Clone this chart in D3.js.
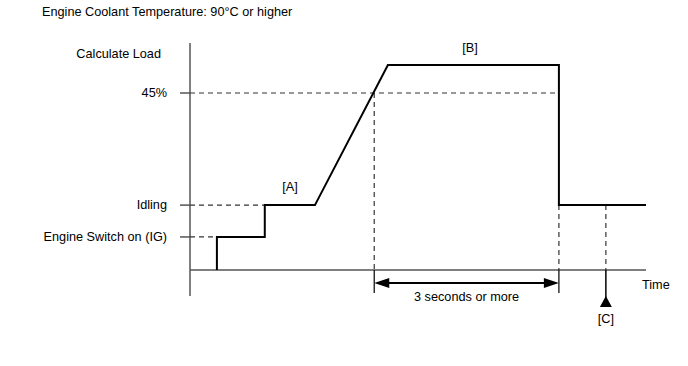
<!DOCTYPE html>
<html>
  <head>
    <meta charset="UTF-8" />
    <style>
      body { margin: 0; background: #fff; }
      text { font-family: 'Liberation Sans', Arial, sans-serif; font-size: 12.7px; fill: #000; }
    </style>
  </head>
  <body>
    <svg></svg>
    <script src="https://d3js.org/d3.v7.min.js"></script>
    <script>
      let width = 688,
        height = 366

      // level labels on the left axis (value in load units)
      let levelNames = ['Engine Switch on (IG)', 'Idling', '45%']
      let levelValues = [8.4, 16.5, 45]
      let topLabel = 'Calculate Load'

      // signal: time (arbitrary units 0-100) and load
      let sigTime = [5.9, 5.9, 16.4, 16.4, 27.4, 43.4, 80.9, 80.9, 100]
      let sigLoad = [0, 8.4, 8.4, 16.5, 16.5, 52.1, 52.1, 16.5, 16.5]

      let crossTime = 40.4 // where signal passes 45%
      let dropTime = 80.9
      let cTime = 91.2

      let svg = d3.select('svg').attr('width', width).attr('height', height)

      let x = d3.scaleLinear().domain([0, 100]).range([190, 646])
      let y = d3.scaleLinear().domain([0, 45]).range([270, 93])

      let axisColor = '#555'

      svg.append('text').attr('x', 42).attr('y', 16).text('Engine Coolant Temperature: 90°C or higher')

      // axes
      svg.append('line').attr('x1', x(0)).attr('x2', x(0)).attr('y1', y(57.7)).attr('y2', y(-6.6))
        .attr('stroke', axisColor).attr('stroke-width', 1.5)
      svg.append('line').attr('x1', x(0)).attr('x2', x(100)).attr('y1', y(0)).attr('y2', y(0))
        .attr('stroke', axisColor).attr('stroke-width', 1.5)

      svg.append('text').attr('x', 161).attr('y', y(54.9)).attr('text-anchor', 'end')
        .attr('dominant-baseline', 'central').text(topLabel)

      // level guides
      let guideEnd = [5.9, 16.4, dropTime]
      levelNames.forEach((name, i) => {
        let yy = y(levelValues[i])
        svg.append('text').attr('x', 167).attr('y', yy).attr('text-anchor', 'end')
          .attr('dominant-baseline', 'central').text(name)
        svg.append('line').attr('x1', 180).attr('x2', x(0)).attr('y1', yy).attr('y2', yy)
          .attr('stroke', axisColor).attr('stroke-width', 1.5)
        svg.append('line').attr('x1', x(0)).attr('x2', x(guideEnd[i])).attr('y1', yy).attr('y2', yy)
          .attr('stroke', '#333').attr('stroke-width', 1.2).attr('stroke-dasharray', '5,4')
      })

      // vertical dashed guides
      let vGuides = [[crossTime, 45], [dropTime, 16.5], [cTime, 16.5]]
      vGuides.forEach((g) => {
        svg.append('line').attr('x1', x(g[0])).attr('x2', x(g[0])).attr('y1', y(g[1])).attr('y2', y(0))
          .attr('stroke', '#333').attr('stroke-width', 1.2).attr('stroke-dasharray', '5,4')
      })
      ;[crossTime, dropTime].forEach((t) => {
        svg.append('line').attr('x1', x(t)).attr('x2', x(t)).attr('y1', y(0)).attr('y2', y(0) + 23)
          .attr('stroke', '#000').attr('stroke-width', 1.2)
      })

      // signal
      let line = d3.line().x((d) => x(d[0])).y((d) => y(d[1]))
      svg.append('path').attr('d', line(d3.zip(sigTime, sigLoad)))
        .attr('fill', 'none').attr('stroke', '#000').attr('stroke-width', 2)

      // double arrow
      let ay = y(0) + 13
      let x1 = x(crossTime), x2 = x(dropTime)
      svg.append('line').attr('x1', x1 + 10).attr('x2', x2 - 10).attr('y1', ay).attr('y2', ay)
        .attr('stroke', '#000').attr('stroke-width', 2)
      svg.append('path').attr('d', `M${x1},${ay} L${x1 + 15},${ay - 5} L${x1 + 15},${ay + 5} Z`)
      svg.append('path').attr('d', `M${x2},${ay} L${x2 - 15},${ay - 5} L${x2 - 15},${ay + 5} Z`)
      svg.append('text').attr('x', (x1 + x2) / 2).attr('y', ay + 14).attr('text-anchor', 'middle')
        .attr('dominant-baseline', 'central').text('3 seconds or more')

      svg.append('text').attr('x', 642).attr('y', 285).attr('dominant-baseline', 'central').text('Time')

      // [C] marker
      let cx = x(cTime)
      svg.append('line').attr('x1', cx).attr('x2', cx).attr('y1', y(0)).attr('y2', 298)
        .attr('stroke', '#000').attr('stroke-width', 1.5)
      svg.append('path').attr('d', `M${cx},296 L${cx - 6},307 L${cx + 6},307 Z`)
      svg.append('text').attr('x', cx).attr('y', 319).attr('text-anchor', 'middle')
        .attr('dominant-baseline', 'central').text('[C]')

      svg.append('text').attr('x', 290).attr('y', 187).attr('text-anchor', 'middle')
        .attr('dominant-baseline', 'central').text('[A]')
      svg.append('text').attr('x', 470).attr('y', 48).attr('text-anchor', 'middle')
        .attr('dominant-baseline', 'central').text('[B]')
    </script>
  </body>
</html>
